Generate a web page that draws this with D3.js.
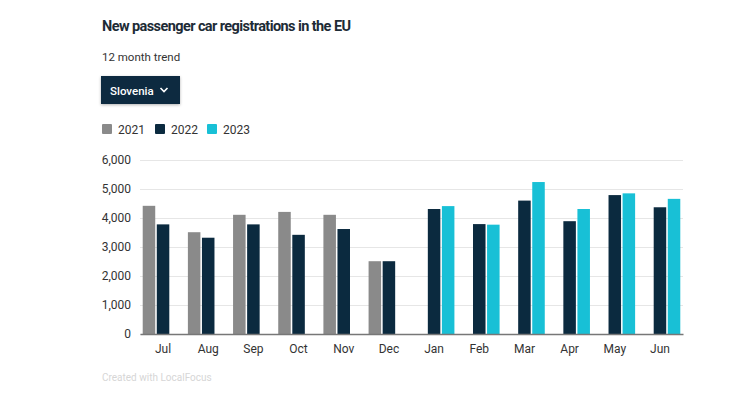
<!DOCTYPE html>
<html>
<head>
<meta charset="utf-8">
<script src="https://cdn.jsdelivr.net/npm/d3@7"></script>
<style>
  body { margin: 0; background: #fff; }
  svg { display: block; font-family: Roboto, "Liberation Sans", sans-serif; }
</style>
</head>
<body>
<div id="chart"></div>
<script>
// data
const months = ["Jul", "Aug", "Sep", "Oct", "Nov", "Dec", "Jan", "Feb", "Mar", "Apr", "May", "Jun"];
const years = ["2021", "2022", "2023"];
const values2021 = [4420, 3510, 4110, 4210, 4110, 2510, null, null, null, null, null, null];
const values2022 = [3780, 3320, 3780, 3420, 3620, 2510, 4310, 3790, 4600, 3890, 4790, 4370];
const values2023 = [null, null, null, null, null, null, 4410, 3770, 5240, 4310, 4850, 4660];
const yTicks = [0, 1000, 2000, 3000, 4000, 5000, 6000];
const colors = { "2021": "#8a8a8a", "2022": "#0b2a3f", "2023": "#18c0d6" };

const W = 750, H = 397;
const margin = { left: 140, right: 67, top: 160, bottom: 63 };

const svg = d3.select("#chart").append("svg")
    .attr("width", W)
    .attr("height", H);

// header
svg.append("text")
    .attr("x", 102).attr("y", 31)
    .attr("font-size", 14.5).attr("font-weight", 700)
    .attr("fill", "#1d2b36")
    .attr("textLength", 249)
    .text("New passenger car registrations in the EU");

svg.append("text")
    .attr("x", 102).attr("y", 61)
    .attr("font-size", 11.5).attr("fill", "#333")
    .text("12 month trend");

// dropdown button
const defs = svg.append("defs");
const shadow = defs.append("filter").attr("id", "shadow")
    .attr("x", "-10%").attr("y", "-20%").attr("width", "130%").attr("height", "160%");
shadow.append("feDropShadow")
    .attr("dx", 0).attr("dy", 1).attr("stdDeviation", 1.5)
    .attr("flood-color", "#000").attr("flood-opacity", 0.3);

svg.append("rect")
    .attr("x", 101).attr("y", 76)
    .attr("width", 79).attr("height", 28)
    .attr("fill", "#0b2a3f")
    .attr("filter", "url(#shadow)");
svg.append("text")
    .attr("x", 110).attr("y", 94.5)
    .attr("font-size", 11.5).attr("font-weight", 500)
    .attr("fill", "#fff")
    .text("Slovenia");
svg.append("path")
    .attr("d", "M160.5,88 l3.5,3.5 l3.5,-3.5")
    .attr("fill", "none").attr("stroke", "#fff").attr("stroke-width", 1.6);

// legend
const legendX = [102, 155, 207];
years.forEach((y, i) => {
    svg.append("rect")
        .attr("x", legendX[i]).attr("y", 124)
        .attr("width", 10).attr("height", 10)
        .attr("rx", 1)
        .attr("fill", colors[y]);
    svg.append("text")
        .attr("x", legendX[i] + 16).attr("y", 134)
        .attr("font-size", 12).attr("fill", "#333")
        .text(y);
});

// scales
const width = W - margin.left - margin.right;
const height = H - margin.top - margin.bottom;

const x0 = d3.scaleBand()
    .domain(months)
    .range([margin.left, margin.left + width])
    .paddingInner(0.1)
    .paddingOuter(0.06);

const x1 = d3.scaleBand()
    .domain(years)
    .range([0, x0.bandwidth()])
    .paddingInner(0.11);

const y = d3.scaleLinear()
    .domain([0, 6000])
    .range([margin.top + height, margin.top]);

// gridlines + y axis labels
const yAxis = d3.axisLeft(y)
    .tickValues(yTicks)
    .tickSize(-width)
    .tickFormat(d3.format(","));
const gy = svg.append("g")
    .attr("class", "y-axis")
    .attr("transform", `translate(${margin.left},0)`)
    .call(yAxis);
gy.select(".domain").remove();
gy.selectAll(".tick line")
    .attr("stroke", "#e6e6e6");
gy.selectAll(".tick text")
    .attr("x", -9)
    .attr("font-size", 12)
    .attr("font-family", "Roboto, sans-serif")
    .attr("fill", "#333");

// bars
const rows = months.map((m, i) => ({
    month: m,
    vals: [
        { year: "2021", v: values2021[i] },
        { year: "2022", v: values2022[i] },
        { year: "2023", v: values2023[i] }
    ].filter(d => d.v != null)
}));

svg.append("g").selectAll("g")
    .data(rows)
    .enter()
    .append("g")
    .attr("transform", d => `translate(${x0(d.month)},0)`)
    .selectAll("rect")
    .data(d => d.vals)
    .enter()
    .append("rect")
    .attr("class", "bar")
    .attr("x", d => x1(d.year))
    .attr("y", d => y(d.v))
    .attr("width", x1.bandwidth())
    .attr("height", d => y(0) - y(d.v))
    .attr("fill", d => colors[d.year]);

// x axis
const xAxis = d3.axisBottom(x0).tickSize(0).tickPadding(10);
const gx = svg.append("g")
    .attr("class", "x-axis")
    .attr("transform", `translate(0,${y(0)})`)
    .call(xAxis);
gx.select(".domain")
    .attr("stroke", "#777")
    .attr("stroke-width", 1.5);
gx.selectAll(".tick text")
    .attr("font-size", 12)
    .attr("font-family", "Roboto, sans-serif")
    .attr("fill", "#333");

// footer
svg.append("text")
    .attr("x", 102).attr("y", 381)
    .attr("font-size", 10).attr("fill", "#d6d6d6")
    .text("Created with LocalFocus");
</script>
</body>
</html>
